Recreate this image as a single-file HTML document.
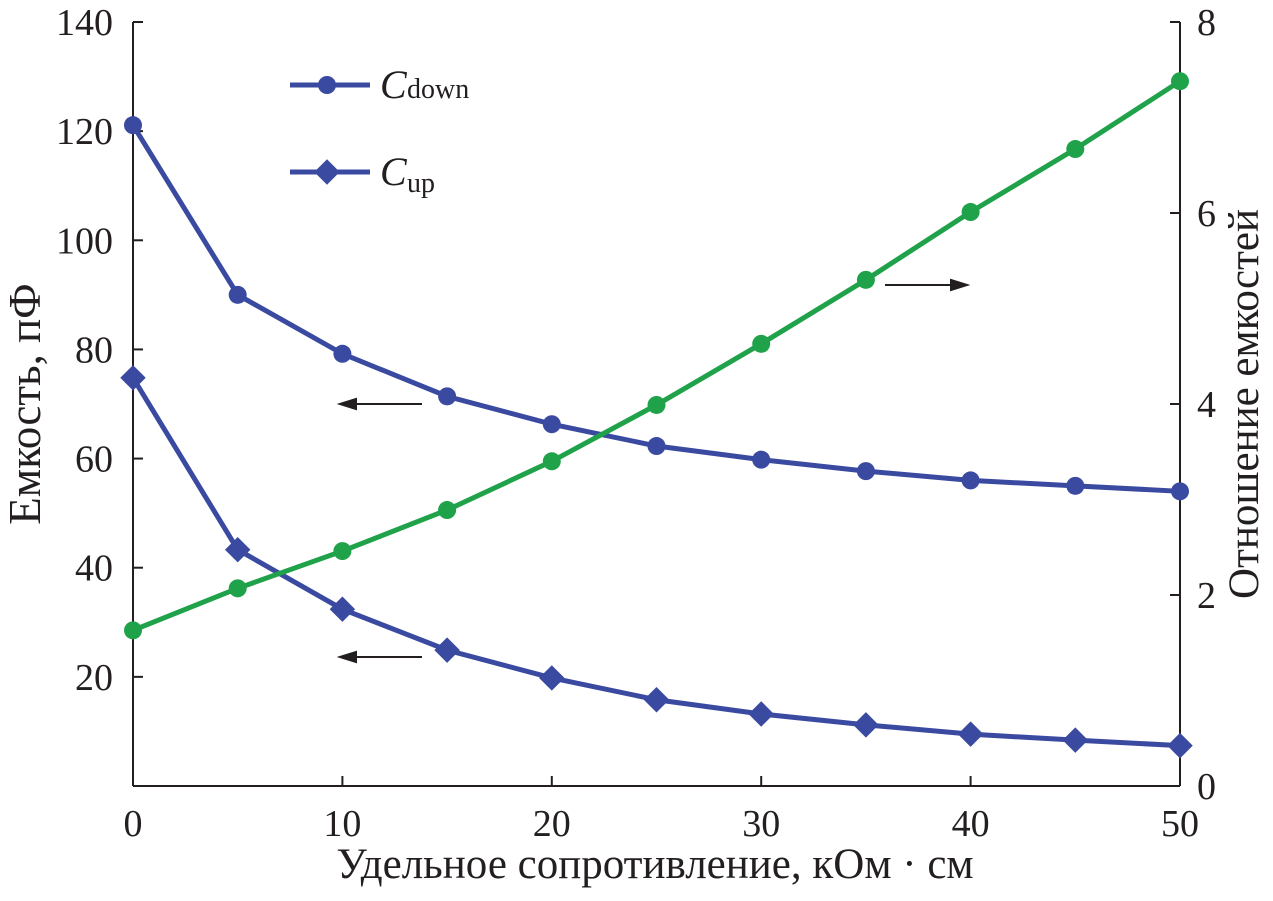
<!DOCTYPE html>
<html><head><meta charset="utf-8"><style>
body{margin:0;background:#fff}
svg text{font-family:"Liberation Serif",serif;fill:#231f20}
</style></head><body>
<svg id="chart" width="1273" height="896" xmlns="http://www.w3.org/2000/svg">
<g id="axes"></g>
<g id="series"></g>
<g>
<line x1="290" y1="85" x2="370" y2="85" stroke="#3a4aa0" stroke-width="5"/>
<circle cx="327" cy="85" r="9" fill="#3a4aa0"/>
<text x="380" y="98" font-size="40" font-style="italic">C</text><text x="407" y="98" font-size="28">down</text>
<line x1="290" y1="172" x2="370" y2="172" stroke="#3a4aa0" stroke-width="5"/>
<rect x="318" y="163" width="18" height="18" fill="#3a4aa0" transform="rotate(45 327 172)"/>
<text x="380" y="185" font-size="40" font-style="italic">C</text><text x="407" y="192" font-size="28">up</text>
</g>
<g stroke="#231f20" stroke-width="2" fill="#231f20">
<line x1="422" y1="404" x2="350" y2="404"/><polygon points="340,404 356,399 356,409"/>
<line x1="422" y1="657" x2="350" y2="657"/><polygon points="340,657 356,652 356,662"/>
<line x1="885" y1="285" x2="955" y2="285"/><polygon points="967,285 951,280 951,290"/>
</g>
<text x="655" y="878" font-size="43" text-anchor="middle">Удельное сопротивление, кОм · см</text>
<text transform="translate(40 404) rotate(-90)" font-size="45" text-anchor="middle">Емкость, пФ</text>
<text transform="translate(1258 404) rotate(-90)" font-size="43" text-anchor="middle">Отношение емкостей</text>
</svg>
<script>
const xVals=[0,5,10,15,20,25,30,35,40,45,50];
const cDown=[121.1,90,79.2,71.4,66.3,62.3,59.8,57.7,56.0,55.0,54.0];
const cUp=[74.8,43.3,32.4,24.9,19.8,15.8,13.2,11.2,9.5,8.4,7.4];
const ratio=[1.63,2.07,2.46,2.89,3.40,3.99,4.63,5.30,6.01,6.67,7.38];
const xTicks=[0,10,20,30,40,50];
const yLeftTicks=[0,20,40,60,80,100,120,140];
const yRightTicks=[0,2,4,6,8];
const NS="http://www.w3.org/2000/svg";
const X0=133,X1=1180,Y0=786,Y1=22;
const sx=v=>X0+(v-0)/50*(X1-X0);
const syL=v=>Y0-v/140*(Y0-Y1);
const syR=v=>Y0-v/8*(Y0-Y1);
function mk(tag,attrs,parent){const e=document.createElementNS(NS,tag);for(const k in attrs)e.setAttribute(k,attrs[k]);parent.appendChild(e);return e;}
const ax=document.getElementById('axes'),se=document.getElementById('series');
let l;
l=mk('line',{x1:X0,y1:Y0,x2:X1,y2:Y0,stroke:'#231f20','stroke-width':2},ax);


l=mk('line',{x1:X0,y1:Y0,x2:X0,y2:Y1,stroke:'#231f20','stroke-width':2},ax);


l=mk('line',{x1:X1,y1:Y0,x2:X1,y2:Y1,stroke:'#231f20','stroke-width':2},ax);


xTicks.forEach(v=>{const x=sx(v);mk('line',{x1:x,y1:Y0,x2:x,y2:Y0-10,stroke:'#231f20','stroke-width':2},ax);
const t=mk('text',{x:x,y:836,'font-size':38,'text-anchor':'middle'},ax);t.textContent=v;

});
yLeftTicks.forEach(v=>{const y=syL(v);mk('line',{x1:X0,y1:y,x2:X0+10,y2:y,stroke:'#231f20','stroke-width':2},ax);
if(v===0)return;const t=mk('text',{x:113,y:y+13,'font-size':38,'text-anchor':'end'},ax);t.textContent=v;

});
yRightTicks.forEach(v=>{const y=syR(v);mk('line',{x1:X1,y1:y,x2:X1-10,y2:y,stroke:'#231f20','stroke-width':2},ax);
const t=mk('text',{x:1197,y:y+13,'font-size':38},ax);t.textContent=v;

});
function series(vals,sy,color,shape,name){
const p=mk('polyline',{points:vals.map((v,i)=>sx(xVals[i])+','+sy(v)).join(' '),fill:'none',stroke:color,'stroke-width':5},se);


vals.forEach((v,i)=>{const x=sx(xVals[i]),y=sy(v);let m;
if(shape==='c')m=mk('circle',{cx:x,cy:y,r:9,fill:color},se);
else m=mk('rect',{x:x-9,y:y-9,width:18,height:18,fill:color,transform:`rotate(45 ${x} ${y})`},se);

});}
series(cDown,syL,'#3a4aa0','c','c-down');
series(cUp,syL,'#3a4aa0','d','c-up');
series(ratio,syR,'#1fa24a','c','ratio');
</script>
</body></html>
